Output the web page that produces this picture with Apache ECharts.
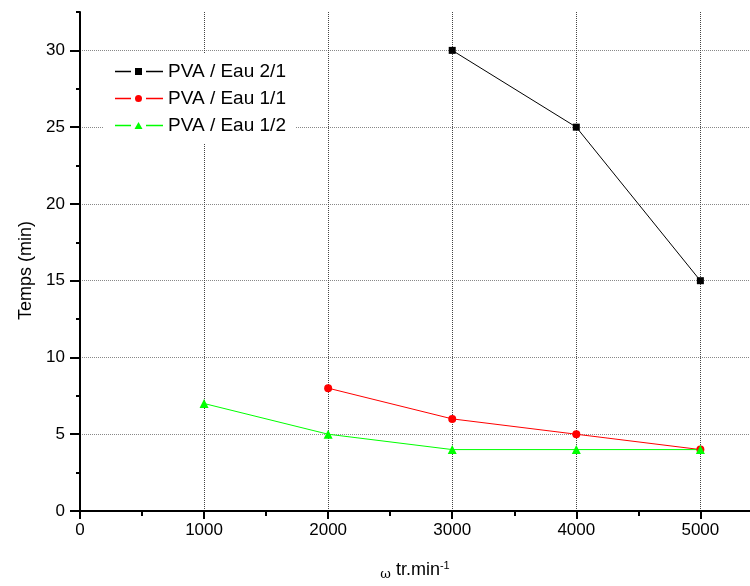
<!DOCTYPE html>
<html>
<head>
<meta charset="utf-8">
<script src="https://cdn.jsdelivr.net/npm/echarts@6/dist/echarts.min.js"></script>
<style>
html,body{margin:0;padding:0;background:#fff;}
#chart{width:750px;height:586px;}
</style>
</head>
<body>
<div id="chart"></div>
<script>
const seriesNames = ['PVA / Eau 2/1', 'PVA / Eau 1/1', 'PVA / Eau 1/2'];
const speed21 = [3000, 4000, 5000];
const temps21 = [30, 25, 15];
const speed11 = [2000, 3000, 4000, 5000];
const temps11 = [8, 6, 5, 4];
const speed12 = [1000, 2000, 3000, 4000, 5000];
const temps12 = [7, 5, 4, 4, 4];
const xMajorTicks = [0, 1000, 2000, 3000, 4000, 5000];
const xMinorTicks = [500, 1500, 2500, 3500, 4500];
const yMajorTicks = [0, 5, 10, 15, 20, 25, 30];
const yMinorTicks = [2.5, 7.5, 12.5, 17.5, 22.5, 27.5, 32.5];

const pairs = (xs, ys) => xs.map((x, i) => [x, ys[i]]);
const font = 'Liberation Sans, Arial, sans-serif';

// legend icons: line segment, gap, marker, gap, line segment (48 x 7 box)
const lines = 'M0 2.8L16 2.8L16 4.2L0 4.2Z M31 2.8L48 2.8L48 4.2L31 4.2Z ';
const iconSquare = 'path://' + lines + 'M20 0L27 0L27 7L20 7Z';
const iconCircle = 'path://' + lines + 'M20 3.5A3.5 3.5 0 1 0 27 3.5A3.5 3.5 0 1 0 20 3.5Z';
const iconTriangle = 'path://' + lines + 'M23.5 0L27.5 7L19.5 7Z';

const chart = echarts.init(document.getElementById('chart'));
chart.setOption({
  animation: false,
  backgroundColor: '#fff',
  grid: { left: 80, right: 0, top: 12, bottom: 74, containLabel: false },
  legend: {
    left: 103, top: 53, orient: 'vertical',
    backgroundColor: '#fff',
    padding: [9, 10, 8, 12],
    itemWidth: 48, itemHeight: 7, itemGap: 8,
    textStyle: { fontFamily: font, fontSize: 19, color: '#000' },
    data: [
      { name: seriesNames[0], icon: iconSquare },
      { name: seriesNames[1], icon: iconCircle },
      { name: seriesNames[2], icon: iconTriangle }
    ]
  },
  xAxis: [{
    type: 'value', min: 0, max: 5400, interval: 1000, position: 'bottom',
    name: '{w|ω} tr.min{s|-1}', nameLocation: 'middle', nameGap: 49,
    nameTextStyle: {
      fontFamily: font, fontSize: 18, color: '#000',
      rich: {
        w: { fontFamily: 'DejaVu Serif, serif', fontSize: 13, color: '#000', verticalAlign: 'bottom' },
        s: { fontFamily: font, fontSize: 11, color: '#000', verticalAlign: 'top', padding: [0, 0, 10, 0] }
      }
    },
    axisLine: { show: true, lineStyle: { color: '#000', width: 2 } },
    axisTick: { show: true, length: 8, customValues: xMajorTicks, lineStyle: { color: '#000', width: 2 } },
    axisLabel: { customValues: xMajorTicks, formatter: v => String(v), fontFamily: font, fontSize: 17, color: '#000', margin: 11 },
    splitLine: { show: true, lineStyle: { color: '#444', type: [1, 1], width: 1 } }
  }, {
    type: 'value', min: 0, max: 5400, interval: 500, position: 'bottom',
    axisLine: { show: false },
    axisTick: { show: true, length: 5, customValues: xMinorTicks, lineStyle: { color: '#000', width: 2 } },
    axisLabel: { show: false },
    splitLine: { show: false }
  }],
  yAxis: [{
    type: 'value', min: 0, max: 32.5, interval: 5, position: 'left',
    name: 'Temps (min)', nameLocation: 'middle', nameGap: 44,
    nameTextStyle: { fontFamily: font, fontSize: 18, color: '#000', padding: [0, 18, 0, 0] },
    axisLine: { show: true, lineStyle: { color: '#000', width: 2 } },
    axisTick: { show: true, length: 10, customValues: yMajorTicks, lineStyle: { color: '#000', width: 2 } },
    axisLabel: { customValues: yMajorTicks, fontFamily: font, fontSize: 17, color: '#000', margin: 15 },
    splitLine: { show: true, lineStyle: { color: '#888', type: [1, 1], width: 1 } }
  }, {
    type: 'value', min: 0, max: 32.5, interval: 2.5, position: 'left',
    axisLine: { show: false },
    axisTick: { show: true, length: 4, customValues: yMinorTicks, lineStyle: { color: '#000', width: 2 } },
    axisLabel: { show: false },
    splitLine: { show: false }
  }],
  series: [{
    name: seriesNames[0], type: 'line', data: pairs(speed21, temps21),
    symbol: 'rect', symbolSize: 7,
    lineStyle: { color: '#000', width: 1 }, itemStyle: { color: '#000' }
  }, {
    name: seriesNames[1], type: 'line', data: pairs(speed11, temps11),
    symbol: 'circle', symbolSize: 8,
    lineStyle: { color: '#ff0000', width: 1 }, itemStyle: { color: '#ff0000' }
  }, {
    name: seriesNames[2], type: 'line', data: pairs(speed12, temps12),
    symbol: 'triangle', symbolSize: 9,
    lineStyle: { color: '#00ff00', width: 1 }, itemStyle: { color: '#00ff00' }
  }]
});
</script>
</body>
</html>
